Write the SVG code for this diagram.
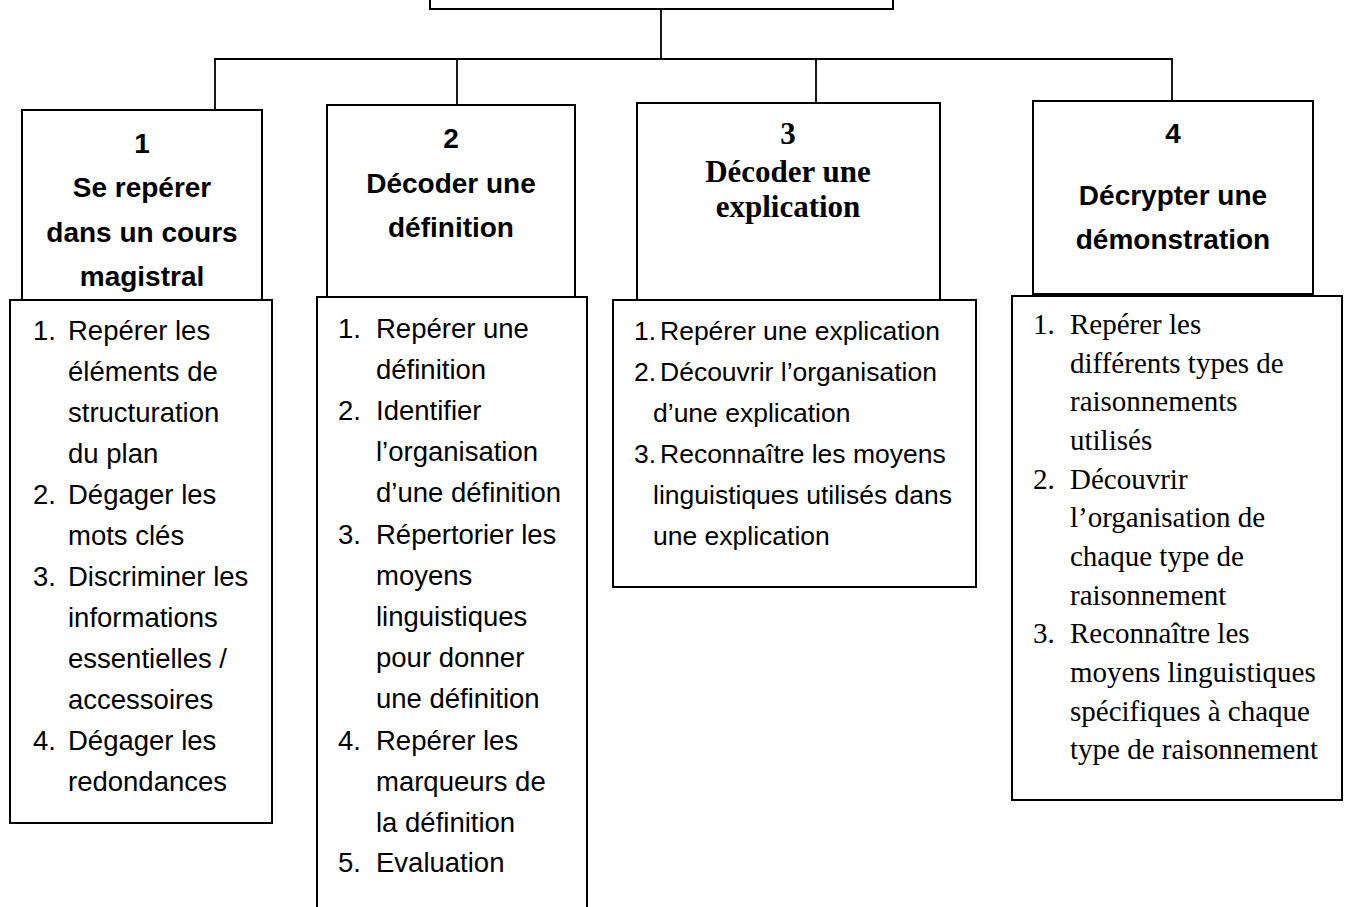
<svg xmlns="http://www.w3.org/2000/svg" width="1351" height="907" viewBox="0 0 1351 907">
<style>
.box{fill:#fff;stroke:#000;stroke-width:2}
.conn{stroke:#000;stroke-width:1.8;fill:none}
.hs{font-family:"Liberation Sans",Arial,sans-serif;font-weight:bold;font-size:28px;text-anchor:middle;fill:#000}
.ht{font-family:"Liberation Serif","Times New Roman",serif;font-weight:bold;font-size:31px;text-anchor:middle;fill:#000}
.ls{font-family:"Liberation Sans",Arial,sans-serif;font-size:27.5px;fill:#000}
.ls3{font-family:"Liberation Sans",Arial,sans-serif;font-size:26.5px;fill:#000}
.lt{font-family:"Liberation Serif","Times New Roman",serif;font-size:29px;fill:#000}
</style>
<rect width="1351" height="907" fill="#fff"/>
<g id="connectors">
<line class="conn" x1="661" y1="9" x2="661" y2="59"/>
<line class="conn" x1="214" y1="59" x2="1173" y2="59" stroke-width="2.4"/>
<line class="conn" x1="215" y1="59" x2="215" y2="110"/>
<line class="conn" x1="457" y1="59" x2="457" y2="105"/>
<line class="conn" x1="816" y1="59" x2="816" y2="110"/>
<line class="conn" x1="1172" y1="59" x2="1172" y2="101"/>
</g>
<g id="root">
<rect class="box" x="430" y="-60" width="463" height="69" stroke-width="2.5"/>
</g>
<g id="node1">
<rect class="box" x="22" y="110" width="240" height="190"/>
<text class="hs" x="142" y="153">1</text>
<text class="hs" x="142" y="197">Se repérer</text>
<text class="hs" x="142" y="242">dans un cours</text>
<text class="hs" x="142" y="286">magistral</text>
</g>
<g id="node2">
<rect class="box" x="327" y="105" width="248" height="192"/>
<text class="hs" x="451" y="148">2</text>
<text class="hs" x="451" y="193">Décoder une</text>
<text class="hs" x="451" y="237">définition</text>
</g>
<g id="node3">
<rect class="box" x="637" y="103" width="303" height="197"/>
<text class="ht" x="788" y="144">3</text>
<text class="ht" x="788" y="182">Décoder une</text>
<text class="ht" x="788" y="217">explication</text>
</g>
<g id="node4">
<rect class="box" x="1033" y="101" width="280" height="193"/>
<text class="hs" x="1173" y="143">4</text>
<text class="hs" x="1173" y="205">Décrypter une</text>
<text class="hs" x="1173" y="249">démonstration</text>
</g>
<g id="list1">
<rect class="box" x="10" y="300" width="262" height="523"/>
<text class="ls" x="33" y="340">1.</text>
<text class="ls" x="68" y="340">Repérer les</text>
<text class="ls" x="68" y="381">éléments de</text>
<text class="ls" x="68" y="422">structuration</text>
<text class="ls" x="68" y="463">du plan</text>
<text class="ls" x="33" y="504">2.</text>
<text class="ls" x="68" y="504">Dégager les</text>
<text class="ls" x="68" y="545">mots clés</text>
<text class="ls" x="33" y="586">3.</text>
<text class="ls" x="68" y="586">Discriminer les</text>
<text class="ls" x="68" y="627">informations</text>
<text class="ls" x="68" y="668">essentielles /</text>
<text class="ls" x="68" y="709">accessoires</text>
<text class="ls" x="33" y="750">4.</text>
<text class="ls" x="68" y="750">Dégager les</text>
<text class="ls" x="68" y="791">redondances</text>
</g>
<g id="list2">
<rect class="box" x="317" y="297" width="270" height="640"/>
<text class="ls" x="338" y="338">1.</text>
<text class="ls" x="376" y="338">Repérer une</text>
<text class="ls" x="376" y="379">définition</text>
<text class="ls" x="338" y="420">2.</text>
<text class="ls" x="376" y="420">Identifier</text>
<text class="ls" x="376" y="461">l’organisation</text>
<text class="ls" x="376" y="502">d’une définition</text>
<text class="ls" x="338" y="544">3.</text>
<text class="ls" x="376" y="544">Répertorier les</text>
<text class="ls" x="376" y="585">moyens</text>
<text class="ls" x="376" y="626">linguistiques</text>
<text class="ls" x="376" y="667">pour donner</text>
<text class="ls" x="376" y="708">une définition</text>
<text class="ls" x="338" y="750">4.</text>
<text class="ls" x="376" y="750">Repérer les</text>
<text class="ls" x="376" y="791">marqueurs de</text>
<text class="ls" x="376" y="832">la définition</text>
<text class="ls" x="338" y="872">5.</text>
<text class="ls" x="376" y="872">Evaluation</text>
</g>
<g id="list3">
<rect class="box" x="613" y="300" width="363" height="287"/>
<text class="ls3" x="634" y="340">1.</text>
<text class="ls3" x="660" y="340">Repérer une explication</text>
<text class="ls3" x="634" y="381">2.</text>
<text class="ls3" x="660" y="381">Découvrir l’organisation</text>
<text class="ls3" x="653" y="422">d’une explication</text>
<text class="ls3" x="634" y="463">3.</text>
<text class="ls3" x="660" y="463">Reconnaître les moyens</text>
<text class="ls3" x="653" y="504">linguistiques utilisés dans</text>
<text class="ls3" x="653" y="545">une explication</text>
</g>
<g id="list4">
<rect class="box" x="1012" y="296" width="330" height="504"/>
<text class="lt" x="1033" y="334">1.</text>
<text class="lt" x="1070" y="334">Repérer les</text>
<text class="lt" x="1070" y="373">différents types de</text>
<text class="lt" x="1070" y="411">raisonnements</text>
<text class="lt" x="1070" y="450">utilisés</text>
<text class="lt" x="1033" y="489">2.</text>
<text class="lt" x="1070" y="489">Découvrir</text>
<text class="lt" x="1070" y="527">l’organisation de</text>
<text class="lt" x="1070" y="566">chaque type de</text>
<text class="lt" x="1070" y="605">raisonnement</text>
<text class="lt" x="1033" y="643">3.</text>
<text class="lt" x="1070" y="643">Reconnaître les</text>
<text class="lt" x="1070" y="682">moyens linguistiques</text>
<text class="lt" x="1070" y="721">spécifiques à chaque</text>
<text class="lt" x="1070" y="759">type de raisonnement</text>
</g>
</svg>
